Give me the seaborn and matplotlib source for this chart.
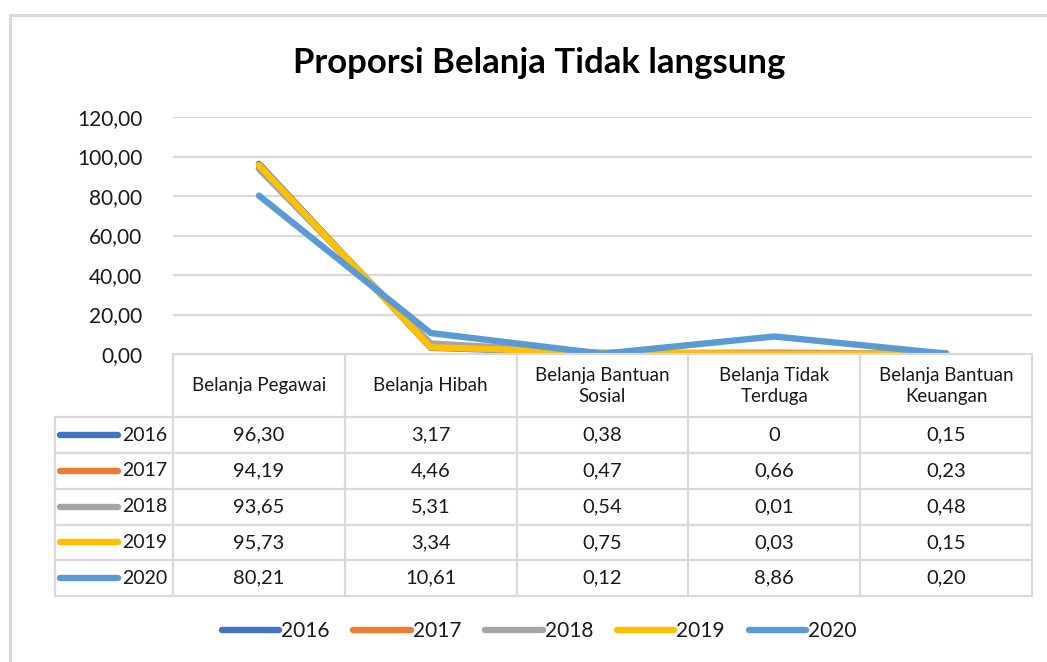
import numpy as np
import pandas as pd
import matplotlib
matplotlib.use("Agg")
import matplotlib.pyplot as plt
from matplotlib.lines import Line2D
from matplotlib.patches import Rectangle
import seaborn as sns

# Categories and yearly proportions (%)
categories = ["Belanja Pegawai", "Belanja Hibah", "Belanja Bantuan\nSosial",
              "Belanja Tidak\nTerduga", "Belanja Bantuan\nKeuangan"]
years = ["2016", "2017", "2018", "2019", "2020"]
v2016 = [96.30, 3.17, 0.38, 0.00, 0.15]
v2017 = [94.19, 4.46, 0.47, 0.66, 0.23]
v2018 = [93.65, 5.31, 0.54, 0.01, 0.48]
v2019 = [95.73, 3.34, 0.75, 0.03, 0.15]
v2020 = [80.21, 10.61, 0.12, 8.86, 0.20]
table_text = [
    ["96,30", "3,17", "0,38", "0", "0,15"],
    ["94,19", "4,46", "0,47", "0,66", "0,23"],
    ["93,65", "5,31", "0,54", "0,01", "0,48"],
    ["95,73", "3,34", "0,75", "0,03", "0,15"],
    ["80,21", "10,61", "0,12", "8,86", "0,20"],
]
y_ticks = [0, 20, 40, 60, 80, 100, 120]
y_tick_labels = ["0,00", "20,00", "40,00", "60,00", "80,00", "100,00", "120,00"]

colors = ["#4472C4", "#ED7D31", "#A5A5A5", "#FFC000", "#5B9BD5"]
grid_c = "#D9D9D9"
text_c = "#1a1a1a"

series = [v2016, v2017, v2018, v2019, v2020]
df = pd.DataFrame({
    "x": np.tile(np.arange(len(categories)), len(years)),
    "value": np.concatenate(series),
    "year": np.repeat(years, len(categories)),
})

sns.set_theme(style="white")
plt.rcParams["font.family"] = ["Lato", "DejaVu Sans"]

W, H = 1047, 662
fig = plt.figure(figsize=(W / 100, H / 100), dpi=100)

def fx(px):
    return px / W

def fy(py):
    return 1 - py / H

# Outer chart frame
fig.patches.append(Rectangle((fx(10), fy(700)), fx(1100), fy(15) - fy(700),
                             transform=fig.transFigure, fill=False,
                             edgecolor=grid_c, lw=2.2))

left, right = 173, 1032
top, bottom = 117, 354
ax = fig.add_axes([fx(left), fy(bottom), fx(right - left), fy(top) - fy(bottom)])
sns.lineplot(data=df, x="x", y="value", hue="year", palette=colors,
             lw=4.6, ax=ax, legend=False, solid_capstyle="round",
             solid_joinstyle="round", zorder=3)
ax.set_xlim(-0.5, len(categories) - 0.5)
ax.set_ylim(0, 120)
ax.set_yticks(y_ticks)
ax.set_yticklabels(y_tick_labels, fontsize=15, color=text_c)
ax.tick_params(axis="y", length=0, pad=22)
ax.set_xticks([])
ax.set_xlabel("")
ax.set_ylabel("")
for s in ax.spines.values():
    s.set_visible(False)
for t in y_ticks[1:]:
    ax.axhline(t, color=grid_c, lw=1.6, zorder=1)

fig.text(0.515, fy(63), "Proporsi Belanja Tidak langsung", ha="center", va="center",
         fontsize=25, fontweight="bold", color="black")

# Data table beneath the plot
tleft = 55
tab = fig.add_axes([fx(tleft), fy(596), fx(right - tleft), fy(bottom) - fy(596)])
col_w = (right - left) / len(categories)
x0 = -0.5 - (left - tleft) / col_w
tab.set_xlim(x0, len(categories) - 0.5)
header_h = 63
row_h = 35.6
total_h = header_h + row_h * len(years)
tab.set_ylim(total_h, 0)
tab.axis("off")

lw_t = 1.6
# header block
tab.plot([-0.5, len(categories) - 0.5], [0, 0], color=grid_c, lw=lw_t, clip_on=False)
for i in range(len(categories) + 1):
    tab.plot([i - 0.5, i - 0.5], [0, header_h], color=grid_c, lw=lw_t, clip_on=False)
# body rows
for r in range(len(years) + 1):
    yy = header_h + r * row_h
    tab.plot([x0, len(categories) - 0.5], [yy, yy], color=grid_c, lw=lw_t, clip_on=False)
for xv in [x0] + [i - 0.5 for i in range(len(categories) + 1)]:
    tab.plot([xv, xv], [header_h, total_h], color=grid_c, lw=lw_t, clip_on=False)

for i, c in enumerate(categories):
    tab.text(i, header_h / 2, c, ha="center", va="center", fontsize=13.5,
             color=text_c, linespacing=1.3)

key_len = 58 / col_w
for r, yr in enumerate(years):
    yc = header_h + (r + 0.5) * row_h
    kx0 = x0 + 5 / col_w
    tab.plot([kx0, kx0 + key_len], [yc, yc], color=colors[r], lw=4.6,
             solid_capstyle="round", clip_on=False)
    tab.text(-0.5 - 6 / col_w, yc, yr, ha="right", va="center", fontsize=14,
             color=text_c)
    for i in range(len(categories)):
        tab.text(i, yc, table_text[r][i], ha="center", va="center", fontsize=14.5,
                 color=text_c)

# Legend row
handles = [Line2D([0], [0], color=c, lw=4.6, solid_capstyle="round") for c in colors]
fig.legend(handles, years, loc="center", bbox_to_anchor=(0.515, fy(631)), ncol=5,
           frameon=False, fontsize=15, handlelength=2.75, handletextpad=0.1,
           columnspacing=1.15, labelcolor=text_c)

fig.savefig("out.png", dpi=100, facecolor="white")
